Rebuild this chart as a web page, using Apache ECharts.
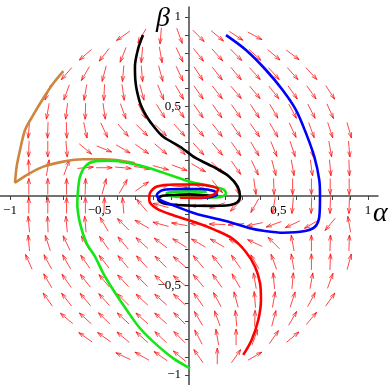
<!DOCTYPE html>
<html>
<head>
<meta charset="utf-8">
<script src="https://cdn.jsdelivr.net/npm/echarts@6/dist/echarts.min.js"></script>
<style>
  html, body { margin: 0; padding: 0; background: #fff; }
  #chart { width: 392px; height: 385px; }
</style>
</head>
<body>
<div id="chart"></div>
<script>
const N = null

// field grid (20 x 20 over [-1,1]), only points inside the unit disk carry an arrow
const gridVals = [-1, -0.895, -0.789, -0.684, -0.579, -0.474, -0.368, -0.263, -0.158, -0.053,
  0.053, 0.158, 0.263, 0.368, 0.474, 0.579, 0.684, 0.789, 0.895, 1]
const rowBetas = [0.895, 0.789, 0.684, 0.579, 0.474, 0.368, 0.263, 0.158, 0.053,
  -0.053, -0.158, -0.263, -0.368, -0.474, -0.579, -0.684, -0.789, -0.895]

// arrow direction in degrees (0 = +alpha, 90 = +beta), one row per beta
const fieldAngles = [
  [N, N, N, N, N, N, -145, -120, -95, -70, -45, -40, -33, -28, N, N, N, N, N, N],
  [N, N, N, N, -139, -128, -112, -95, -80, -65, -52, -48, -45, -43, -40, -37, N, N, N, N],
  [N, N, N, -131, -120, -105, -95, -85, -75, -65, -57, -52, -50, -48, -48, -48, -47, N, N, N],
  [N, N, -110, -110, -100, -93, -82, -75, -68, -60, -55, -52, -50, -50, -52, -55, -55, -57, N, N],
  [N, N, -100, -97, -92, -82, -70, -63, -58, -55, -55, -55, -55, -57, -60, -62, -63, -66, N, N],
  [N, -95, -92, -88, -78, -65, -50, -45, -45, -48, -50, -52, -55, -55, -60, -65, -70, -72, -74, N],
  [N, -92, -90, -85, -40, -22, -30, -35, -40, -45, -48, -50, -55, -60, -68, -72, -77, -80, -85, N],
  [N, 92, 80, 70, 5, 0, -5, -10, -15, -20, -30, -45, -55, -65, -75, -80, -82, -85, -88, N],
  [N, 90, 90, 90, 88, 75, 60, 35, 10, -5, -25, -50, -70, -82, -88, -90, -90, -90, -90, N],
  [N, 90, 90, 90, 90, 88, 95, 130, 165, 175, -175, -160, -135, -120, -100, -95, -92, -92, -92, N],
  [N, 95, 92, 95, 95, 120, 135, 150, 165, 170, 175, 178, -175, -168, -160, -155, -150, -130, 100, N],
  [N, 95, 108, 115, 120, 125, 130, 138, 143, 148, 150, 150, 150, 155, 135, 100, 90, 88, 88, N],
  [N, 114, 118, 120, 125, 128, 130, 132, 135, 140, 130, 128, 125, 120, 110, 100, 90, 88, 75, N],
  [N, N, 120, 125, 128, 130, 133, 135, 137, 140, 130, 125, 120, 100, 95, 85, 80, 70, N, N],
  [N, N, 125, 128, 130, 132, 135, 137, 138, 138, 125, 118, 105, 95, 80, 72, 62, 55, N, N],
  [N, N, N, 140, 138, 135, 137, 138, 138, 135, 120, 110, 95, 88, 75, 60, 50, N, N, N],
  [N, N, N, N, 145, 145, 140, 138, 137, 135, 118, 100, 90, 70, 55, 40, N, N, N, N],
  [N, N, N, N, N, N, 155, 150, 145, 140, 125, 90, 55, 30, N, N, N, N, N, N]
]
const arrowLen = 0.09

// trajectories [alpha, beta]
const brownPath = [[-0.702, 0.698], [-0.758, 0.630], [-0.814, 0.546], [-0.870, 0.453], [-0.916, 0.369],
  [-0.944, 0.257], [-0.963, 0.164], [-0.972, 0.074], [-0.907, 0.117], [-0.814, 0.164], [-0.702, 0.192],
  [-0.591, 0.205], [-0.497, 0.205], [-0.404, 0.201], [-0.302, 0.183]]
const greenPath = [[0.006, -0.963], [-0.088, -0.907], [-0.180, -0.832], [-0.274, -0.739], [-0.348, -0.637],
  [-0.423, -0.525], [-0.479, -0.432], [-0.525, -0.339], [-0.572, -0.264], [-0.609, -0.153], [-0.624, -0.041],
  [-0.618, 0.052], [-0.609, 0.108], [-0.581, 0.164], [-0.535, 0.192], [-0.441, 0.197], [-0.330, 0.183],
  [-0.218, 0.155], [-0.106, 0.117], [0.006, 0.080], [0.117, 0.056], [0.192, 0.037], [0.207, 0.015],
  [0.183, -0.004], [0.099, -0.009], [-0.013, -0.007], [-0.106, 0.000], [-0.125, 0.015], [-0.088, 0.024],
  [0.006, 0.026], [0.099, 0.024]]
const blackPath = [[-0.257, 0.899], [-0.285, 0.820], [-0.302, 0.722], [-0.300, 0.650], [-0.292, 0.592],
  [-0.270, 0.510], [-0.236, 0.443], [-0.190, 0.380], [-0.144, 0.331], [-0.050, 0.275], [0.039, 0.211],
  [0.151, 0.155], [0.225, 0.108], [0.272, 0.052], [0.285, -0.004], [0.270, -0.035], [0.230, -0.050],
  [0.117, -0.055], [-0.032, -0.052], [-0.144, -0.040], [-0.172, -0.020], [-0.153, 0.000], [-0.088, 0.006],
  [0.006, 0.009], [0.136, 0.000]]
const bluePath = [[0.207, 0.899], [0.318, 0.816], [0.430, 0.704], [0.523, 0.592], [0.598, 0.480],
  [0.654, 0.350], [0.700, 0.220], [0.728, 0.089], [0.732, -0.004], [0.728, -0.116], [0.704, -0.172],
  [0.648, -0.196], [0.527, -0.205], [0.415, -0.194], [0.341, -0.180], [0.225, -0.145], [0.039, -0.099],
  [-0.088, -0.052], [-0.162, -0.022], [-0.180, 0.006], [-0.144, 0.034], [-0.050, 0.039], [0.061, 0.039],
  [0.140, 0.028], [0.156, 0.008], [0.106, -0.008], [0.006, -0.011]]
const redPath = [[0.303, -0.888], [0.350, -0.804], [0.387, -0.693], [0.402, -0.581], [0.397, -0.488],
  [0.369, -0.395], [0.318, -0.313], [0.244, -0.239], [0.151, -0.192], [0.039, -0.148], [-0.088, -0.108],
  [-0.180, -0.071], [-0.222, -0.024], [-0.218, 0.017], [-0.179, 0.053], [-0.078, 0.064], [0.034, 0.064],
  [0.117, 0.056], [0.162, 0.039], [0.150, 0.015], [0.080, -0.008], [-0.050, -0.010]]

// axes: small ticks every 0.1, labels only at the labelled values
const tickVals = [-1, -0.9, -0.8, -0.7, -0.6, -0.5, -0.4, -0.3, -0.2, -0.1,
  0.1, 0.2, 0.3, 0.4, 0.5, 0.6, 0.7, 0.8, 0.9, 1]
const labelVals = [-1, -0.5, 0.5, 1]
const labelText = ['−1', '−0,5', '0,5', '1']

const labelFor = v => {
  const n = Number(v)
  const i = labelVals.findIndex(x => Math.abs(x - n) < 1e-6)
  return i < 0 ? '' : labelText[i]
}

const arrowData = []
fieldAngles.forEach((row, r) => {
  row.forEach((ang, k) => {
    if (ang !== null) arrowData.push([gridVals[k], rowBetas[r], ang])
  })
})

const arrowColor = 'rgba(255,0,0,0.72)'

const renderArrow = (params, api) => {
  const c = api.coord([api.value(0), api.value(1)])
  const len = api.size([arrowLen, 0])[0]
  const a = api.value(2) * Math.PI / 180
  const ux = Math.cos(a), uy = -Math.sin(a)
  const h = len / 2
  const tail = [c[0] - ux * h, c[1] - uy * h]
  const tip = [c[0] + ux * h, c[1] + uy * h]
  const hl = len * 0.34, hw = len * 0.11
  const bx = tip[0] - ux * hl, by = tip[1] - uy * hl
  return {
    type: 'group',
    children: [
      { type: 'line', shape: { x1: tail[0], y1: tail[1], x2: tip[0], y2: tip[1] },
        style: { stroke: arrowColor, lineWidth: 1 } },
      { type: 'polyline', shape: { points: [[bx - uy * hw, by + ux * hw], tip, [bx + uy * hw, by - ux * hw]] },
        style: { stroke: arrowColor, fill: null, lineWidth: 1 } }
    ]
  }
}

const axisFont = { fontFamily: 'Liberation Serif', fontSize: 13, color: '#000' }
const nameFont = { fontFamily: 'Liberation Serif', fontStyle: 'italic', fontSize: 28, color: '#000' }

const curve = (data, color) => ({
  type: 'line', data, showSymbol: false, smooth: 0.3, z: 5,
  lineStyle: { color, width: 2.6 }
})

// axes are moved onto the origin with offset (grid is 378 px square, origin in its middle)
const chart = echarts.init(document.getElementById('chart'))
chart.setOption({
  animation: false,
  grid: { left: 0, top: 7, width: 378, height: 378, containLabel: false, outerBoundsMode: 'none' },
  xAxis: {
    type: 'value', min: -1.056, max: 1.056, position: 'bottom', offset: -189,
    name: 'α', nameLocation: 'end', nameGap: -5, nameMoveOverlap: false,
    nameTextStyle: { ...nameFont, align: 'left', verticalAlign: 'top', padding: [4, 0, 0, 0] },
    axisLine: { onZero: false, lineStyle: { color: '#444', width: 1.5 } },
    axisTick: { customValues: tickVals, inside: false, length: 4, lineStyle: { color: '#444' } },
    axisLabel: { customValues: labelVals, formatter: labelFor, margin: 8, ...axisFont },
    splitLine: { show: false }
  },
  yAxis: {
    type: 'value', min: -1.056, max: 1.056, position: 'left', offset: -189,
    name: 'β', nameLocation: 'end', nameGap: -26, nameMoveOverlap: false,
    nameTextStyle: { ...nameFont, align: 'right', verticalAlign: 'bottom', padding: [0, 19, 0, 0] },
    axisLine: { onZero: false, lineStyle: { color: '#444', width: 1.5 } },
    axisTick: { customValues: tickVals, inside: false, length: 4, lineStyle: { color: '#444' } },
    axisLabel: { customValues: labelVals, formatter: labelFor, margin: 8, ...axisFont },
    splitLine: { show: false }
  },
  series: [
    { type: 'custom', renderItem: renderArrow, data: arrowData, encode: { x: 0, y: 1 }, z: 1, silent: true },
    curve(brownPath, '#cd853f'),
    curve(greenPath, '#14e614'),
    curve(blackPath, '#000000'),
    curve(bluePath, '#0000ff'),
    curve(redPath, '#ff0000')
  ]
})
</script>
</body>
</html>
